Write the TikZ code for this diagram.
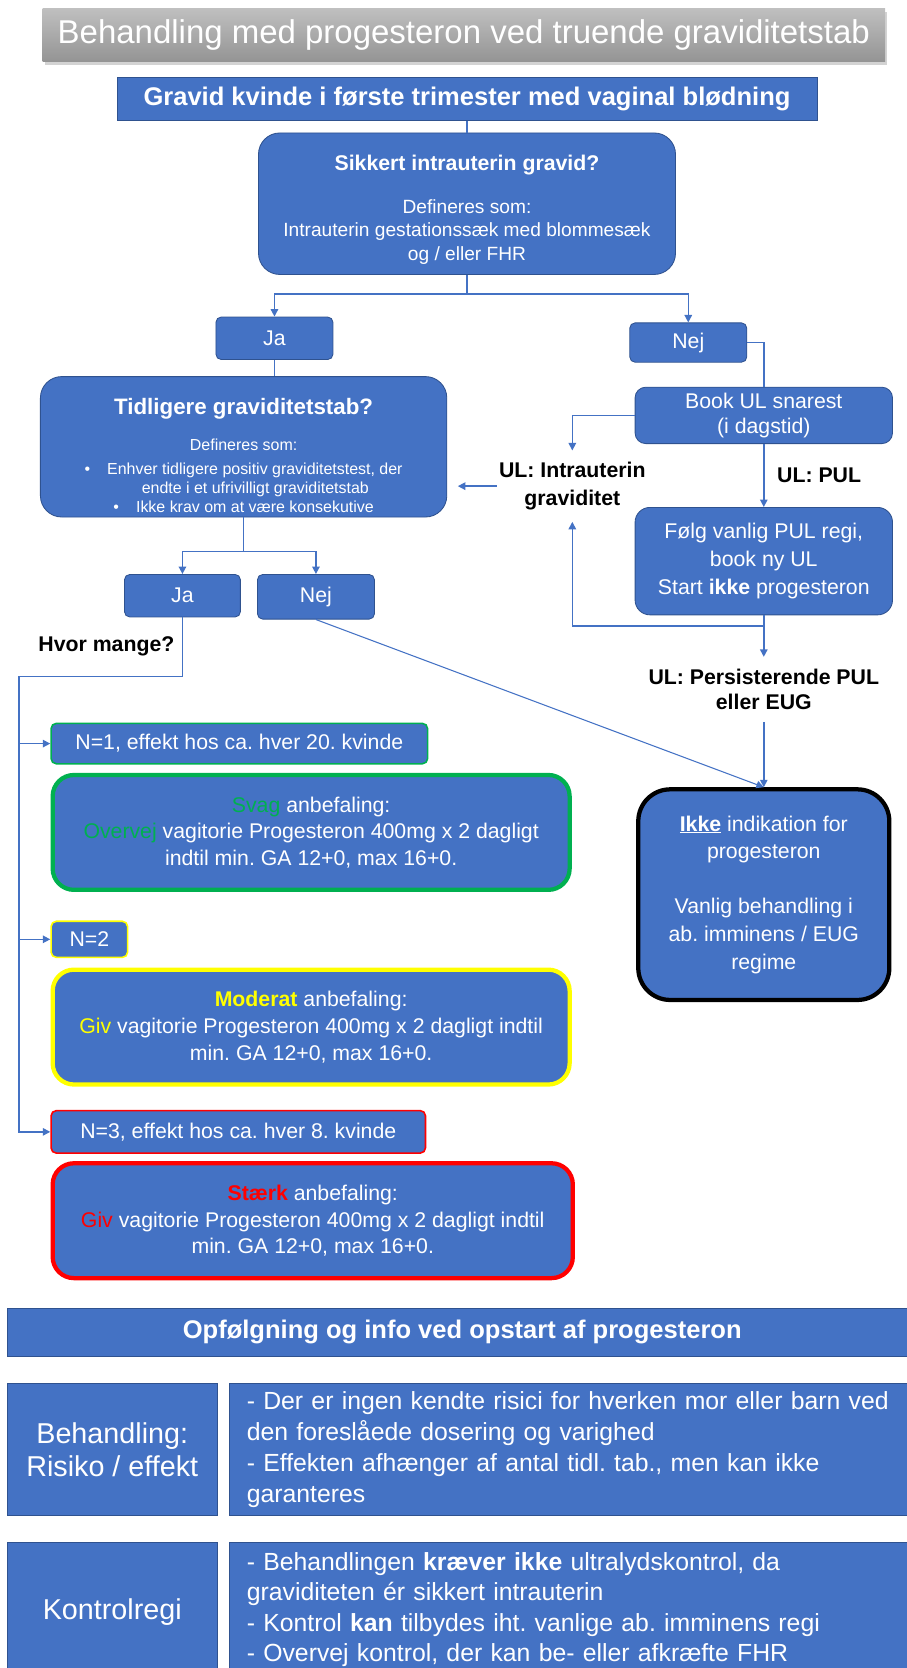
\documentclass[tikz,border=0pt]{standalone}
\usepackage{fontspec}
\setmainfont{Liberation Sans}
\usepackage{tikz}
\usetikzlibrary{arrows.meta,shadows,calc,positioning}

\definecolor{boxblue}{HTML}{4472C4}
\definecolor{edgeblue}{HTML}{2F528F}
\definecolor{okgreen}{HTML}{00B050}
\definecolor{warnyellow}{HTML}{FFFF00}
\definecolor{stopred}{HTML}{FF0000}
\newcommand{\fsz}[2]{\fontsize{#1}{#2}\selectfont}
\frenchspacing

\begin{document}
\begin{tikzpicture}[x=1pt,y=-1pt,
    bluebox/.style={draw=edgeblue,fill=boxblue,text=white,line width=0.8pt,align=center,inner sep=2pt},
    link/.style={draw=boxblue,line width=1.4pt},
    flow/.style={link,-{Triangle[length=7pt,width=7pt]}},
    ultext/.style={font=\fsz{20}{26}\bfseries,align=center,inner xsep=2pt,inner ysep=11pt}]

    \useasboundingbox (0,0) rectangle (852,1568);

    \node (title) at (436,33) [top color=black!25,bottom color=black!42,text=white,
      drop shadow={opacity=0.35,shadow xshift=2pt,shadow yshift=-3pt},
      minimum width=792pt,minimum height=50pt,font=\fsz{31}{31}] {Behandling med progesteron ved truende graviditetstab};

    \node (gravid) at (439,93) [bluebox,minimum width=658pt,minimum height=40pt,font=\fsz{24}{24}\bfseries] {Gravid kvinde i første trimester med vaginal blødning};
    \node (sikker) at (439,191.5) [bluebox,rounded corners=20pt,minimum width=392pt,minimum height=133pt,font=\fsz{18}{22}]
      {\rule{0pt}{26pt}{\fsz{20}{22}\bfseries Sikkert intrauterin gravid?}\\[18pt]Defineres som:\\Intrauterin gestationssæk med blommesæk\\og / eller FHR};

    \node (ja1) at (258,318) [bluebox,rounded corners=5pt,minimum width=110pt,minimum height=40pt,font=\fsz{20}{24}] {Ja};
    \node (nej1) at (647,322) [bluebox,rounded corners=5pt,minimum width=110pt,minimum height=37pt,font=\fsz{20}{24}] {Nej};

    \node (tidl) at (229,420) [bluebox,rounded corners=20pt,minimum width=382pt,minimum height=132pt,font=\fsz{15}{18}]
      {\rule{0pt}{32pt}{\fsz{21}{22}\bfseries Tidligere graviditetstab?}\\[16pt]Defineres som:\\[4pt]
       •\hspace{16pt}Enhver tidligere positiv graviditetstest, der\\\hspace*{22pt}endte i et ufrivilligt graviditetstab\\
       •\hspace{16pt}Ikke krav om at være konsekutive};

    \node (book) at (718,390.5) [bluebox,rounded corners=10pt,minimum width=242pt,minimum height=53pt,font=\fsz{20}{24}] {Book UL snarest\\(i dagstid)};
    \node (ulintra) at (538,457) [ultext] {UL: Intrauterin\\graviditet};
    \node (ulpul) at (770,447) [ultext] {UL: PUL};
    \node (folg) at (718,527.5) [bluebox,rounded corners=14pt,minimum width=242pt,minimum height=101pt,font=\fsz{20}{26}]
      {Følg vanlig PUL regi,\\book ny UL\\Start \textbf{ikke} progesteron};
    \node (ulpers) at (718,648) [ultext,font=\fsz{20}{24}\bfseries] {UL: Persisterende PUL\\eller EUG};

    \node (ja2) at (171.5,560) [bluebox,rounded corners=5pt,minimum width=109pt,minimum height=40pt,font=\fsz{20}{24}] {Ja};
    \node (nej2) at (297,561) [bluebox,rounded corners=5pt,minimum width=110pt,minimum height=42pt,font=\fsz{20}{24}] {Nej};
    \node (hvor) at (100,608) [font=\fsz{20}{24}\bfseries] {Hvor mange?};

    \node (ikke) at (718,841) [bluebox,draw=black,line width=4pt,rounded corners=30pt,minimum width=236pt,minimum height=198pt,font=\fsz{20}{26}]
      {\underline{\textbf{Ikke}} indikation for\\progesteron\\[26pt]Vanlig behandling i\\ab. imminens / EUG\\regime};

    % antal tidligere tab
    \node (n1) at (225,699) [bluebox,draw=okgreen,line width=1.5pt,rounded corners=5pt,minimum width=354pt,minimum height=38pt,font=\fsz{20}{24}] {N=1, effekt hos ca. hver 20. kvinde};
    \node (svag) at (292.5,782.5) [bluebox,draw=okgreen,line width=4pt,rounded corners=20pt,minimum width=486pt,minimum height=108pt,font=\fsz{20}{25}]
      {\textcolor{okgreen}{Svag} anbefaling:\\\textcolor{okgreen}{Overvej} vagitorie Progesteron 400mg x 2 dagligt\\indtil min. GA 12+0, max 16+0.};
    \node (n2) at (84,883) [bluebox,draw=warnyellow,line width=1.5pt,rounded corners=5pt,minimum width=72pt,minimum height=34pt,font=\fsz{20}{24}] {N=2};
    \node (moderat) at (292.5,965.5) [bluebox,draw=warnyellow,line width=4pt,rounded corners=20pt,minimum width=486pt,minimum height=108pt,font=\fsz{20}{25}]
      {\textcolor{warnyellow}{\textbf{Moderat}} anbefaling:\\\textcolor{warnyellow}{Giv} vagitorie Progesteron 400mg x 2 dagligt indtil\\min. GA 12+0, max 16+0.};
    \node (n3) at (224,1064) [bluebox,draw=stopred,line width=1.5pt,rounded corners=5pt,minimum width=352pt,minimum height=40pt,font=\fsz{20}{24}] {N=3, effekt hos ca. hver 8. kvinde};
    \node (staerk) at (294,1147.5) [bluebox,draw=stopred,line width=4pt,rounded corners=20pt,minimum width=489pt,minimum height=108pt,font=\fsz{20}{25}]
      {\textcolor{stopred}{\textbf{Stærk}} anbefaling:\\\textcolor{stopred}{Giv} vagitorie Progesteron 400mg x 2 dagligt indtil\\min. GA 12+0, max 16+0.};

    % opfoelgning
    \node (opf) at (434.5,1252.5) [bluebox,minimum width=855pt,minimum height=45pt,font=\fsz{24}{24}\bfseries] {Opfølgning og info ved opstart af progesteron};
    \node (behL) at (105.5,1362.5) [bluebox,minimum width=197pt,minimum height=125pt,font=\fsz{27}{31}] {Behandling:\\Risiko / effekt};
    \node (behR) at (552,1362.5) [bluebox,align=left,inner xsep=16pt,text width=640pt,minimum height=125pt,font=\fsz{23.3}{29}]
      {- Der er ingen kendte risici for hverken mor eller barn ved\\den foreslåede dosering og varighed\\- Effekten afhænger af antal tidl. tab., men kan ikke\\garanteres};
    \node (konL) at (105.5,1515) [bluebox,minimum width=197pt,minimum height=130pt,font=\fsz{27}{31}] {Kontrolregi};
    \node (konR) at (552,1513) [bluebox,align=left,inner xsep=16pt,text width=640pt,minimum height=126pt,font=\fsz{23.3}{28.6}]
      {- Behandlingen \textbf{kræver ikke} ultralydskontrol, da\\graviditeten ér sikkert intrauterin\\- Kontrol \textbf{kan} tilbydes iht. vanlige ab. imminens regi\\- Overvej kontrol, der kan be- eller afkræfte FHR};

    \draw[link] (gravid) -- (sikker);
    \draw[flow] (sikker.south) -- ++(0,18) -| (ja1);
    \draw[flow] (sikker.south) -- ++(0,18) -| (nej1);
    \draw[link] (ja1.south) -- (ja1.south |- tidl.north);
    \draw[link] (nej1.east) -| (book.north);
    \draw[flow] (book.west) -| (ulintra.north);
    \draw[flow,shorten >=10pt] (ulintra.west) -- (ulintra.west -| tidl.east);
    \draw[flow] (book) -- (folg);
    \draw[flow] (folg.south) -- ++(0,10) -| (ulintra.south);
    \draw[flow] (folg) -- (ulpers);
    \draw[flow] (ulpers) -- (ikke);
    \draw[flow,line width=1pt] (nej2.south) -- (ikke.north);
    \draw[flow] (tidl.south) -- ++(0,32) -| (ja2);
    \draw[flow] (tidl.south) -- ++(0,32) -| (nej2);

    \coordinate (spine) at (18,636);
    \draw[flow] (ja2.south) |- (spine) |- (n3.west);
    \draw[flow] (spine |- n1.west) -- (n1.west);
    \draw[flow] (spine |- n2.west) -- (n2.west);

\end{tikzpicture}
\end{document}
